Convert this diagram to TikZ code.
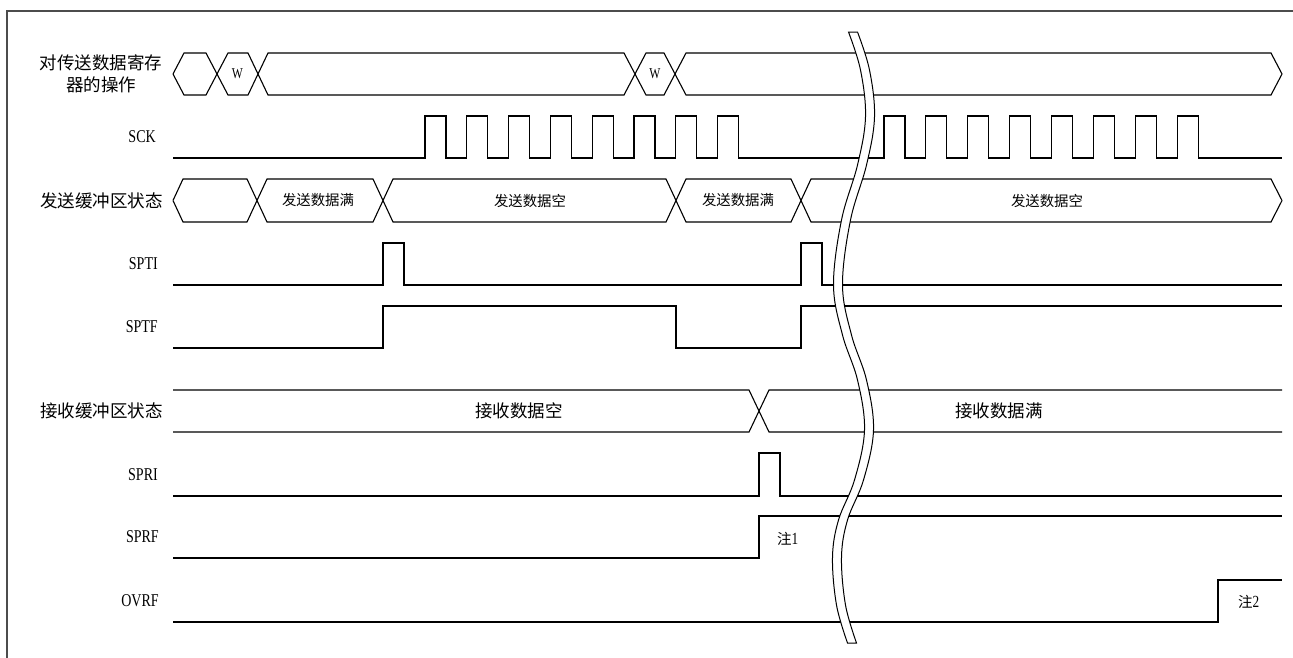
\documentclass[tikz,border=0pt]{standalone}
\usepackage{fontspec}
\setmainfont[FakeStretch=0.78]{Liberation Serif}
\newfontfamily\cjk{Noto Sans CJK SC}
\begin{document}
\begin{tikzpicture}[x=1pt,y=-1pt]
\tikzset{
  sig/.style={line width=1.1pt, black, line join=miter},
  framel/.style={line width=1.5pt, black!70},
  biglab/.style={inner sep=0pt, font=\cjk\fontsize{17.5}{22}\selectfont},
  latlab/.style={inner sep=0pt, anchor=east, font=\fontsize{18}{20}\selectfont},
  buslab/.style={inner sep=0pt, font=\cjk\fontsize{14.4}{16}\selectfont},
  rxlab/.style={inner sep=0pt, font=\cjk\fontsize{17.5}{20}\selectfont},
  wlab/.style={inner sep=0pt, font=\fontsize{15}{17}\selectfont},
  notelab/.style={inner sep=0pt, font=\cjk\fontsize{14.5}{16}\selectfont},
  breakband/.style={line width=1pt, black, fill=white}
}
\useasboundingbox (0,0) rectangle (1293,657);
% frame
\draw[framel] (7,662) -- (7,11) -- (1298,11);

% row labels
\node[biglab, align=center] (lop) at (101,74) {对传送数据寄存\\器的操作};
\node[latlab] (lsck) at (156,137) {SCK};
\node[biglab, anchor=east] (ltx) at (163,200.5) {发送缓冲区状态};
\node[latlab] (lspti) at (158,264) {SPTI};
\node[latlab] (lsptf) at (158,327) {SPTF};
\node[biglab, anchor=east] (lrx) at (163,411) {接收缓冲区状态};
\node[latlab] (lspri) at (158,475) {SPRI};
\node[latlab] (lsprf) at (159,537) {SPRF};
\node[latlab] (lovrf) at (159,601) {OVRF};

% row 1: register operation bus
\draw[sig] (173,74) -- (184,53) -- (206,53) -- (228,95) -- (248,95) -- (268,53) -- (624,53) -- (646,95) -- (664,95) -- (686,53) -- (1271,53) -- (1282,74);
\draw[sig] (173,74) -- (184,95) -- (206,95) -- (228,53) -- (248,53) -- (268,95) -- (624,95) -- (646,53) -- (664,53) -- (686,95) -- (1271,95) -- (1282,74);
\node[wlab] (w1) at (237.5,74) {W};
\node[wlab] (w2) at (655,74) {W};

% SCK
\draw[sig] (173,158) foreach \i in {0,...,7} { -- ({425+41.8*\i},158) -- ({425+41.8*\i},116) -- ({446+41.8*\i},116) -- ({446+41.8*\i},158) }
  foreach \i in {0,...,7} { -- ({884+41.9*\i},158) -- ({884+41.9*\i},116) -- ({905+41.9*\i},116) -- ({905+41.9*\i},158) } -- (1282,158);

% row 3: transmit buffer state
\draw[sig] (173,200.5) -- (183,179) -- (247,179) -- (267,222) -- (373,222) -- (393,179) -- (666,179) -- (686,222) -- (791,222) -- (811,179) -- (1271,179) -- (1282,200.5);
\draw[sig] (173,200.5) -- (183,222) -- (247,222) -- (267,179) -- (373,179) -- (393,222) -- (666,222) -- (686,179) -- (791,179) -- (811,222) -- (1271,222) -- (1282,200.5);
\node[buslab] (t1) at (318,200.5) {发送数据满};
\node[buslab] (t2) at (530,200.5) {发送数据空};
\node[buslab] (t3) at (738,200.5) {发送数据满};
\node[buslab] (t4) at (1047,200.5) {发送数据空};

% SPTI
\draw[sig] (173,285) -- (383,285) -- (383,243) -- (404,243) -- (404,285) -- (801,285) -- (801,243) -- (822,243) -- (822,285) -- (1282,285);
% SPTF
\draw[sig] (173,348) -- (383,348) -- (383,306) -- (676,306) -- (676,348) -- (801,348) -- (801,306) -- (1282,306);

% receive buffer state
\draw[sig] (173,390) -- (749,390) -- (769,432) -- (1282,432);
\draw[sig] (173,432) -- (749,432) -- (769,390) -- (1282,390);
\node[rxlab] (r1) at (519,411) {接收数据空};
\node[rxlab] (r2) at (999,411) {接收数据满};

% SPRI
\draw[sig] (173,496) -- (759,496) -- (759,453) -- (780,453) -- (780,496) -- (1282,496);
% SPRF
\draw[sig] (173,558) -- (759,558) -- (759,516) -- (1282,516);
\node[notelab, anchor=west] (n1) at (777,539) {注{\rmfamily\fontsize{17}{18}\selectfont 1}};
% OVRF
\draw[sig] (173,622) -- (1218,622) -- (1218,580) -- (1282,580);
\node[notelab, anchor=west] (n2) at (1238,602) {注{\rmfamily\fontsize{17}{18}\selectfont 2}};

% break symbol
\draw[breakband] plot[smooth, tension=0.6] coordinates {(848.5,32) (860.5,70) (865.5,117) (857.5,165) (841.5,220) (833.5,285) (842.5,335) (857.5,380) (864.5,430) (854.5,480) (838.5,520) (832.5,557) (836.5,605) (847.5,643)}
  -- plot[smooth, tension=0.6] coordinates {(856.5,643) (845.5,605) (841.5,557) (847.5,520) (863.5,480) (873.5,430) (866.5,380) (851.5,335) (842.5,285) (850.5,220) (866.5,165) (874.5,117) (869.5,70) (857.5,32)} -- cycle;
\end{tikzpicture}
\end{document}
